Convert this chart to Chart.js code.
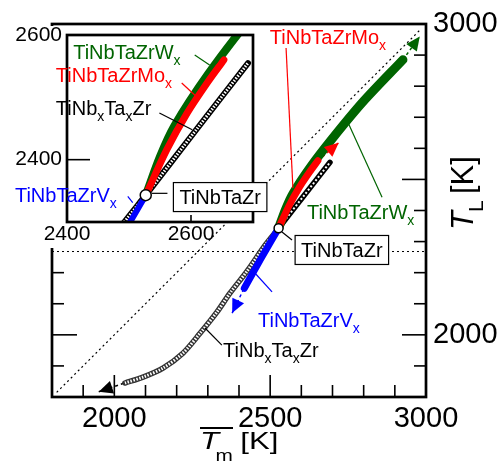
<!DOCTYPE html>
<html>
<head>
<meta charset="utf-8">
<script src="https://cdn.jsdelivr.net/npm/chart.js@4.4.1/dist/chart.umd.min.js"></script>
<style>
  body { margin: 0; background: #fff; }
  #wrap { position: relative; width: 502px; height: 466px; }
  #main { position: absolute; left: 0; top: 0; }
  #inset { position: absolute; left: 0; top: 26px; }
</style>
</head>
<body>
<div id="wrap">
  <canvas id="main" width="502" height="466"></canvas>
  <canvas id="inset" width="272" height="222"></canvas>
</div>
<script>
// --- values, all in K: [Tm, TL] ---
const refTiNbTaZr = [[2527, 2343]];
const nbtaLow = [[2527, 2343], [2485, 2290], [2426, 2205], [2371, 2134], [2329, 2073], [2275, 2005], [2220, 1941], [2156, 1893], [2092, 1864], [2034, 1845]];
const nbtaHigh = [[2527, 2343], [2610, 2450], [2692, 2555]];
const vLine = [[2527, 2343], [2470, 2245], [2417, 2150]];
const moLine = [[2527, 2343], [2561, 2416], [2594, 2475], [2626, 2523], [2653, 2560]];
const wLine = [[2527, 2343], [2550, 2405], [2573, 2454], [2628, 2538], [2700, 2632], [2800, 2752], [2926, 2885]];

// dashed arrows: [end of curve, arrow tip]
const nbtaArrow = [[2030, 1844], [1950, 1817]];
const vArrow = [[2415, 2147], [2378, 2070]];
const moArrow = [[2653, 2560], [2720, 2618]];
const wArrow = [[2926, 2885], [2980, 2960]];

// guide lines
const diagLine = [[1815, 1815], [2985, 2985]];
const hLine = [[1800, 2268], [3000, 2268]];

// axis ranges / tick labels
const mainRange = [1800, 3000];
const mainXLabels = [2000, 2500, 3000];
const mainYLabels = [2000, 3000];
const insetRange = [2400, 2700];
const insetYRange = [2300, 2600];
const insetLabels = [2400, 2600];

const FONT = '"Liberation Sans", Arial, sans-serif';
const GREEN = '#006400';
const RED = '#ff0000';
const BLUE = '#0000ff';

// --- helpers ---
const pts = arr => arr.map(p => ({ x: p[0], y: p[1] }));

function line(data, color, width, extra) {
    return Object.assign({
        data: pts(data),
        showLine: true,
        borderColor: color,
        backgroundColor: color,
        borderWidth: width,
        pointRadius: 0,
        tension: 0.3,
        borderCapStyle: 'round',
        borderJoinStyle: 'round'
    }, extra || {});
}

// "TiNb_xTa_xZr" -> parts with subscripts
function parseRich(s) {
    const parts = [];
    let buf = '';
    for (let i = 0; i < s.length; i++) {
        if (s[i] === '_') {
            if (buf) parts.push([buf, false]);
            buf = '';
            parts.push([s[i + 1], true]);
            i++;
        } else {
            buf += s[i];
        }
    }
    if (buf) parts.push([buf, false]);
    return parts;
}

function drawRich(ctx, str, x, cy, size, color, center) {
    const parts = parseRich(str);
    const sub = Math.round(size * 0.7);
    ctx.save();
    ctx.fillStyle = color;
    ctx.textAlign = 'left';
    ctx.textBaseline = 'alphabetic';
    let w = 0;
    parts.forEach(p => {
        ctx.font = (p[1] ? sub : size) + 'px ' + FONT;
        w += ctx.measureText(p[0]).width;
    });
    const base = cy + size * 0.36;
    let cx = center ? x - w / 2 : x;
    parts.forEach(p => {
        ctx.font = (p[1] ? sub : size) + 'px ' + FONT;
        ctx.fillText(p[0], cx, p[1] ? base + size * 0.3 : base);
        cx += ctx.measureText(p[0]).width;
    });
    ctx.restore();
    return w;
}

function arrowHead(ctx, from, to, color, len, half) {
    const dx = to.x - from.x, dy = to.y - from.y;
    const d = Math.hypot(dx, dy) || 1;
    const ux = dx / d, uy = dy / d;
    ctx.save();
    ctx.fillStyle = color;
    ctx.beginPath();
    ctx.moveTo(to.x, to.y);
    ctx.lineTo(to.x - ux * len - uy * half, to.y - uy * len + ux * half);
    ctx.lineTo(to.x - ux * len + uy * half, to.y - uy * len - ux * half);
    ctx.closePath();
    ctx.fill();
    ctx.restore();
}

// frame, inward ticks, labels, leaders, arrow heads
function makeDecor(cfg) {
    return {
        id: 'decor',
        beforeDraw(chart) {
            if (!cfg.whiteBg) return;
            const ctx = chart.ctx, a = chart.chartArea;
            ctx.save();
            ctx.fillStyle = '#fff';
            ctx.fillRect(a.left, a.top, a.right - a.left, a.bottom - a.top);
            ctx.fillRect(0, 0, a.left, chart.height);
            ctx.restore();
        },
        afterDatasetsDraw(chart) {
            const ctx = chart.ctx, a = chart.chartArea;
            const sx = chart.scales.x, sy = chart.scales.y;
            (cfg.arrows || []).forEach(ar => {
                const p0 = { x: sx.getPixelForValue(ar.data[0][0]), y: sy.getPixelForValue(ar.data[0][1]) };
                const p1 = { x: sx.getPixelForValue(ar.data[1][0]), y: sy.getPixelForValue(ar.data[1][1]) };
                arrowHead(ctx, p0, p1, ar.color, 14, 6.5);
            });
            ctx.save();
            ctx.strokeStyle = '#000';
            ctx.lineWidth = 1.6;
            cfg.ticks.forEach(t => {
                t.values.forEach(v => {
                    const len = v % t.majorEvery === 0 ? t.major : t.minor;
                    ctx.beginPath();
                    if (t.side === 'bottom') {
                        const px = sx.getPixelForValue(v);
                        ctx.moveTo(px, a.bottom); ctx.lineTo(px, a.bottom - len);
                    } else if (t.side === 'left') {
                        const py = sy.getPixelForValue(v);
                        ctx.moveTo(a.left, py); ctx.lineTo(a.left + len, py);
                    } else {
                        const py = sy.getPixelForValue(v);
                        ctx.moveTo(a.right, py); ctx.lineTo(a.right - len, py);
                    }
                    ctx.stroke();
                });
            });
            ctx.lineWidth = 2.7;
            ctx.strokeRect(a.left, a.top, a.right - a.left, a.bottom - a.top);
            ctx.restore();
        },
        afterDraw(chart) {
            const ctx = chart.ctx;
            const sx = chart.scales.x, sy = chart.scales.y;
            const X = v => sx.getPixelForValue(v), Y = v => sy.getPixelForValue(v);
            ctx.save();
            ctx.lineWidth = 1.2;
            (cfg.leaders || []).forEach(l => {
                ctx.strokeStyle = l.color;
                ctx.beginPath();
                ctx.moveTo(X(l.from[0]), Y(l.from[1]));
                ctx.lineTo(X(l.to[0]), Y(l.to[1]));
                ctx.stroke();
            });
            ctx.restore();
            (cfg.labels || []).forEach(l => {
                const px = X(l.at[0]), py = Y(l.at[1]);
                if (l.box) {
                    ctx.save();
                    ctx.font = '20px ' + FONT;
                    const w = ctx.measureText(l.text).width + 12;
                    ctx.fillStyle = '#fff';
                    ctx.fillRect(px - w / 2, py - 14.5, w, 29);
                    ctx.strokeStyle = '#000';
                    ctx.lineWidth = 1.2;
                    ctx.strokeRect(px - w / 2, py - 14.5, w, 29);
                    ctx.restore();
                    drawRich(ctx, l.text, px, py, 20, l.color, true);
                } else {
                    drawRich(ctx, l.text, px, py, 20, l.color, false);
                }
            });
            if (cfg.titles) cfg.titles(ctx);
        }
    };
}

function hundreds(lo, hi) {
    const out = [];
    for (let v = lo; v <= hi; v += 100) out.push(v);
    return out;
}

function axisTitles(ctx) {
    // x: overlined italic T, subscript m, [K]
    ctx.save();
    ctx.fillStyle = '#000';
    ctx.textBaseline = 'alphabetic';
    ctx.translate(200, 449);
    ctx.scale(1.3, 1);
    ctx.font = 'italic 24px ' + FONT;
    ctx.fillText('T', 0, 0);
    ctx.font = '16px ' + FONT;
    ctx.fillText('m', 12, 12);
    ctx.font = '24px ' + FONT;
    ctx.fillText('[K]', 31, 0);
    ctx.restore();
    ctx.save();
    ctx.strokeStyle = '#000';
    ctx.lineWidth = 2;
    ctx.beginPath();
    ctx.moveTo(200, 428); ctx.lineTo(233, 428);
    ctx.stroke();
    ctx.restore();
    // y: T_L [K], rotated
    ctx.save();
    ctx.fillStyle = '#000';
    ctx.textBaseline = 'alphabetic';
    ctx.translate(473, 230);
    ctx.rotate(-Math.PI / 2);
    ctx.font = 'italic 31px ' + FONT;
    ctx.fillText('T', 0, 0);
    ctx.font = '21px ' + FONT;
    ctx.fillText('L', 18, 10);
    ctx.font = '31px ' + FONT;
    ctx.fillText('[K]', 36, 0);
    ctx.restore();
}

function scaleOpts(range, labels, size, padding, position, fit) {
    return {
        type: 'linear',
        position: position,
        min: range[0],
        max: range[1],
        grid: { display: false, drawTicks: false },
        border: { display: false },
        ticks: {
            stepSize: 100,
            autoSkip: false,
            maxRotation: 0,
            padding: padding,
            color: '#000',
            font: { family: FONT, size: size },
            callback: v => labels.includes(v) ? String(v) : ''
        },
        afterFit: s => {
            fit(s);
            s.paddingTop = 0; s.paddingBottom = 0; s.paddingLeft = 0; s.paddingRight = 0;
        }
    };
}

// --- main chart ---
new Chart(document.getElementById('main'), {
    type: 'scatter',
    data: {
        datasets: [
            { data: pts(refTiNbTaZr), pointRadius: 4.5, pointBackgroundColor: '#fff', pointBorderColor: '#000', pointBorderWidth: 1.5, showLine: false },
            line(vLine, BLUE, 7),
            line(moLine, RED, 7),
            line(wLine, GREEN, 9),
            line(nbtaHigh, '#fff', 2, { borderDash: [2, 2], borderCapStyle: 'butt' }),
            line(nbtaHigh, '#000', 5.5),
            line(nbtaLow, '#fff', 3, { borderDash: [1.5, 1.5], borderCapStyle: 'butt' }),
            line(nbtaLow, '#333', 5.5),
            line(nbtaArrow, '#000', 1.5, { borderDash: [3, 3], borderCapStyle: 'butt', tension: 0 }),
            line(vArrow, BLUE, 1.5, { borderDash: [3, 3], borderCapStyle: 'butt', tension: 0 }),
            line(moArrow, RED, 1.5, { borderDash: [3, 3], borderCapStyle: 'butt', tension: 0 }),
            line(wArrow, GREEN, 1.5, { borderDash: [3, 3], borderCapStyle: 'butt', tension: 0 }),
            line(diagLine, '#000', 1.2, { borderDash: [2, 3], borderCapStyle: 'butt', tension: 0 }),
            line(hLine, '#000', 1, { borderDash: [2, 3], borderCapStyle: 'butt', tension: 0 })
        ]
    },
    options: {
        responsive: false,
        animation: false,
        devicePixelRatio: 1,
        layout: { padding: { left: 52, top: 24, right: 0, bottom: 0 } },
        plugins: { legend: { display: false }, tooltip: { enabled: false } },
        scales: {
            x: scaleOpts(mainRange, mainXLabels, 29, 5, 'bottom', s => { s.height = 69; }),
            y: scaleOpts(mainRange, mainYLabels, 29, 7, 'right', s => { s.width = 76; })
        }
    },
    plugins: [makeDecor({
        arrows: [
            { data: nbtaArrow, color: '#000' },
            { data: vArrow, color: BLUE },
            { data: moArrow, color: RED },
            { data: wArrow, color: GREEN }
        ],
        ticks: [
            { side: 'bottom', values: hundreds(1900, 2900), majorEvery: 500, major: 22, minor: 12 },
            { side: 'left', values: hundreds(1900, 2900), majorEvery: 500, major: 25, minor: 12 },
            { side: 'right', values: hundreds(1900, 2900), majorEvery: 500, major: 24, minor: 12 }
        ],
        leaders: [
            { from: [2551, 2923], to: [2573, 2472], color: RED },
            { from: [2746, 2691], to: [2859, 2443], color: GREEN },
            { from: [2451, 2199], to: [2506, 2138], color: BLUE },
            { from: [2291, 2022], to: [2345, 1967], color: '#000' },
            { from: [2538, 2331], to: [2570, 2305], color: '#000' }
        ],
        labels: [
            { text: 'TiNbTaZrMo_x', at: [2499, 2958], color: RED },
            { text: 'TiNbTaZrW_x', at: [2618, 2395], color: GREEN },
            { text: 'TiNbTaZrV_x', at: [2461, 2048], color: BLUE },
            { text: 'TiNb_xTa_xZr', at: [2349, 1951], color: '#000' },
            { text: 'TiNbTaZr', at: [2730, 2273], color: '#000', box: true }
        ],
        titles: axisTitles
    })]
});

// --- inset (zoom on the reference alloy) ---
new Chart(document.getElementById('inset'), {
    type: 'scatter',
    data: {
        datasets: [
            { data: pts(refTiNbTaZr), pointRadius: 5.5, pointBackgroundColor: '#fff', pointBorderColor: '#000', pointBorderWidth: 1.5, showLine: false },
            line(vLine, BLUE, 6),
            line(moLine, RED, 7),
            line(wLine, GREEN, 8),
            line(nbtaHigh, '#fff', 3, { borderDash: [1.5, 1.5], borderCapStyle: 'butt' }),
            line(nbtaHigh, '#000', 6),
            line(nbtaLow, '#fff', 3, { borderDash: [1.5, 1.5], borderCapStyle: 'butt' }),
            line(nbtaLow, '#000', 6)
        ]
    },
    options: {
        responsive: false,
        animation: false,
        devicePixelRatio: 1,
        layout: { padding: { left: 0, top: 9, right: 19, bottom: 0 } },
        plugins: { legend: { display: false }, tooltip: { enabled: false } },
        scales: {
            x: scaleOpts(insetRange, insetLabels, 21, 0, 'bottom', s => { s.height = 26; }),
            y: scaleOpts(insetYRange, insetLabels, 21, 5, 'left', s => { s.width = 67; })
        }
    },
    plugins: [makeDecor({
        whiteBg: true,
        ticks: [
            { side: 'bottom', values: [2600], majorEvery: 100, major: 7, minor: 7 },
            { side: 'left', values: [2400], majorEvery: 100, major: 23, minor: 23 }
        ],
        leaders: [
            { from: [2606, 2568], to: [2630, 2552], color: GREEN },
            { from: [2585, 2523], to: [2609, 2501], color: RED },
            { from: [2549, 2475], to: [2602, 2448], color: '#000' },
            { from: [2498, 2341], to: [2506, 2331], color: BLUE },
            { from: [2537, 2346], to: [2562, 2346], color: '#000' }
        ],
        labels: [
            { text: 'TiNbTaZrW_x', at: [2410, 2573], color: GREEN },
            { text: 'TiNbTaZrMo_x', at: [2382, 2536], color: RED },
            { text: 'TiNb_xTa_xZr', at: [2382, 2483], color: '#000' },
            { text: 'TiNbTaZrV_x', at: [2316, 2344], color: BLUE },
            { text: 'TiNbTaZr', at: [2647, 2340], color: '#000', box: true }
        ]
    })]
});
</script>
</body>
</html>
